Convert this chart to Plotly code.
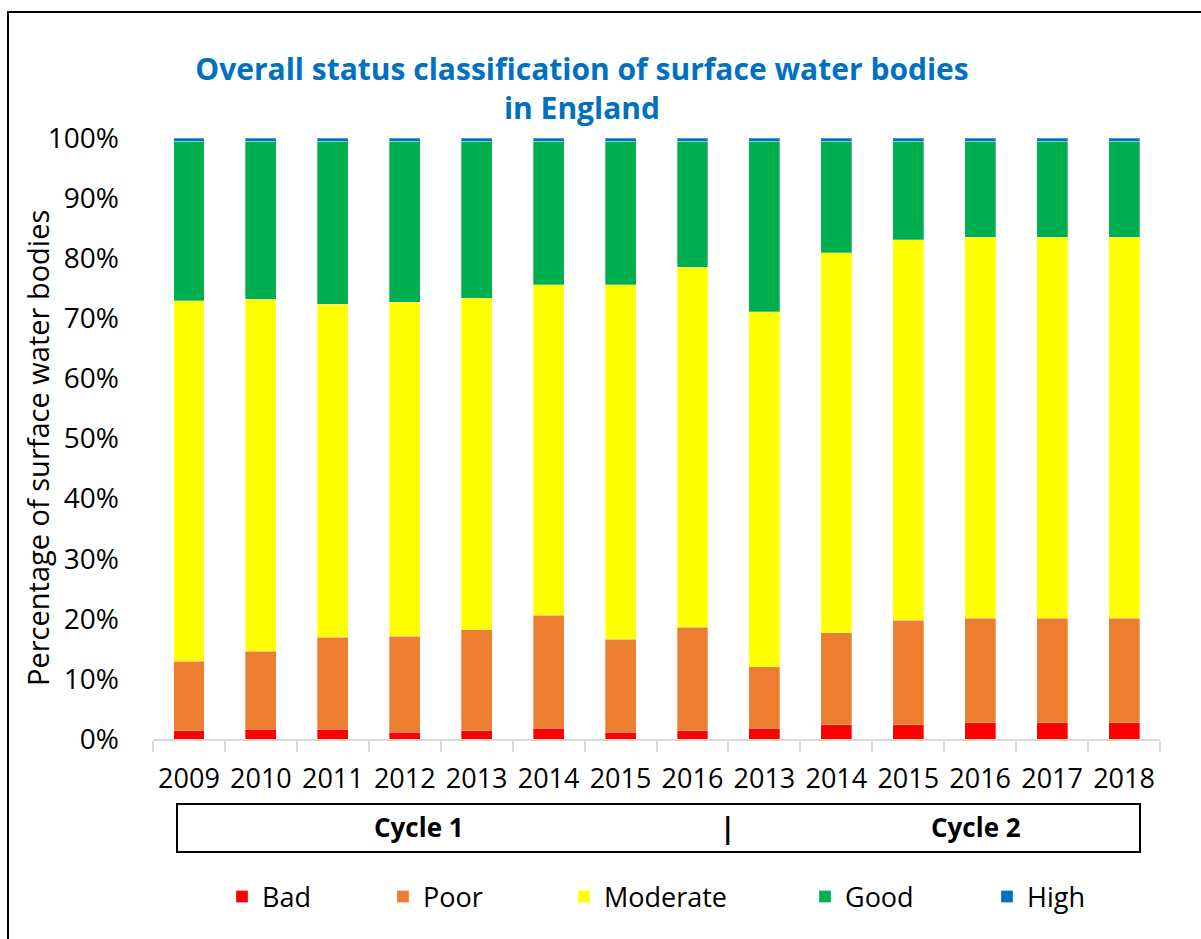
import plotly.graph_objects as go

# ---- data ----
years = ["2009", "2010", "2011", "2012", "2013", "2014", "2015", "2016",
         "2013", "2014", "2015", "2016", "2017", "2018"]
cycles = ["Cycle 1"] * 8 + ["Cycle 2"] * 6
bad = [1.4, 1.6, 1.6, 1.1, 1.4, 1.8, 1.1, 1.4, 1.8, 2.4, 2.4, 2.7, 2.7, 2.7]
poor = [11.5, 13.0, 15.3, 16.0, 16.8, 18.8, 15.5, 17.2, 10.2, 15.3, 17.4, 17.4, 17.4, 17.4]
moderate = [60.0, 58.6, 55.4, 55.6, 55.1, 55.0, 59.0, 59.9, 59.1, 63.2, 63.3, 63.4, 63.4, 63.4]
good = [26.6, 26.3, 27.2, 26.8, 26.2, 23.9, 23.9, 21.0, 28.4, 18.6, 16.4, 16.0, 16.0, 16.0]
high = [0.5] * 14

series_names = ["Bad", "Poor", "Moderate", "Good", "High"]
series_values = [bad, poor, moderate, good, high]
series_colors = ["#FF0000", "#ED7D31", "#FFFF00", "#00B050", "#0070C0"]

y_ticks = list(range(0, 101, 10))
y_tick_labels = [f"{v}%" for v in y_ticks]

cats = [f"{c} {y}" for c, y in zip(cycles, years)]

# pixel geometry helpers
W, H = 1201, 939
PL, PR, PT, PB = 153, 1160, 138, 739


def px(x):
    return (x - PL) / (PR - PL)


def py(y):
    return (PB - y) / (PB - PT)


FONT = "Open Sans"
fig = go.Figure()
legend_text_x = [263, 424, 605, 846, 1028]
legend_keys = ["legend", "legend2", "legend3", "legend4", "legend5"]
for name, vals, col, lk in zip(series_names, series_values, series_colors, legend_keys):
    fig.add_trace(go.Bar(
        x=cats, y=vals, name=name, legend=lk,
        marker=dict(color=col, line=dict(color="rgba(255,255,255,0.6)", width=0.5)),
    ))

layout_legends = {}
for lk, tx in zip(legend_keys, legend_text_x):
    layout_legends[lk] = dict(
        x=px(tx - 41), xanchor="left", y=py(897), yanchor="middle",
        orientation="h", font=dict(family=FONT, size=27, color="black"),
        bgcolor="rgba(0,0,0,0)", borderwidth=0, itemwidth=30,
    )

fig.update_layout(
    width=W, height=H,
    barmode="stack", bargap=0.57,
    plot_bgcolor="white", paper_bgcolor="white",
    margin=dict(l=PL, r=W - PR, t=PT, b=H - PB, autoexpand=False),
    showlegend=True,
    title=dict(
        text="Overall status classification of surface water bodies<br>in England",
        x=582 / W, xref="container", xanchor="center",
        y=1 - 80 / H, yref="container", yanchor="middle",
        font=dict(family=FONT, size=30, color="#0070C0", weight="bold"),
    ),
    xaxis=dict(
        type="category", tickvals=cats, ticktext=years, tickson="boundaries",
        ticks="outside", ticklen=11, tickwidth=2, tickcolor="#D9D9D9",
        showline=True, linecolor="#D9D9D9", linewidth=2,
        tickfont=dict(family=FONT, size=27, color="black"),
        ticklabelstandoff=15, showgrid=False, automargin=False,
    ),
    yaxis=dict(
        range=[0, 100], tickvals=y_ticks, ticktext=y_tick_labels,
        showgrid=False, showline=False, ticks="", zeroline=False,
        tickfont=dict(family=FONT, size=28, color="black"),
        ticklabelstandoff=33, automargin=False,
    ),
    shapes=[
        dict(type="rect", xref="paper", yref="paper",
             x0=px(8), x1=px(1210), y0=py(950), y1=py(12),
             line=dict(color="black", width=2), fillcolor="rgba(0,0,0,0)", layer="below"),
        dict(type="rect", xref="paper", yref="paper",
             x0=px(177), x1=px(1140), y0=py(852), y1=py(804),
             line=dict(color="black", width=2), fillcolor="rgba(0,0,0,0)"),
    ],
    annotations=[
        dict(text="Percentage of surface water bodies", textangle=-90,
             x=px(37), y=py(448), xref="paper", yref="paper",
             xanchor="center", yanchor="middle", showarrow=False,
             font=dict(family=FONT, size=29, color="black")),
        dict(text="Cycle 1", x=px(419), y=py(827), xref="paper", yref="paper",
             xanchor="center", yanchor="middle",
             showarrow=False, font=dict(family=FONT, size=26, color="black", weight="bold")),
        dict(text="|", x=px(727), y=py(827), xref="paper", yref="paper",
             xanchor="center", yanchor="middle",
             showarrow=False, font=dict(family=FONT, size=28, color="black", weight="bold")),
        dict(text="Cycle 2", x=px(976), y=py(827), xref="paper", yref="paper",
             xanchor="center", yanchor="middle",
             showarrow=False, font=dict(family=FONT, size=26, color="black", weight="bold")),
    ],
    **layout_legends,
)

fig.write_html("out.html", config={"displayModeBar": False},
               post_script="document.body.style.margin='0';")
